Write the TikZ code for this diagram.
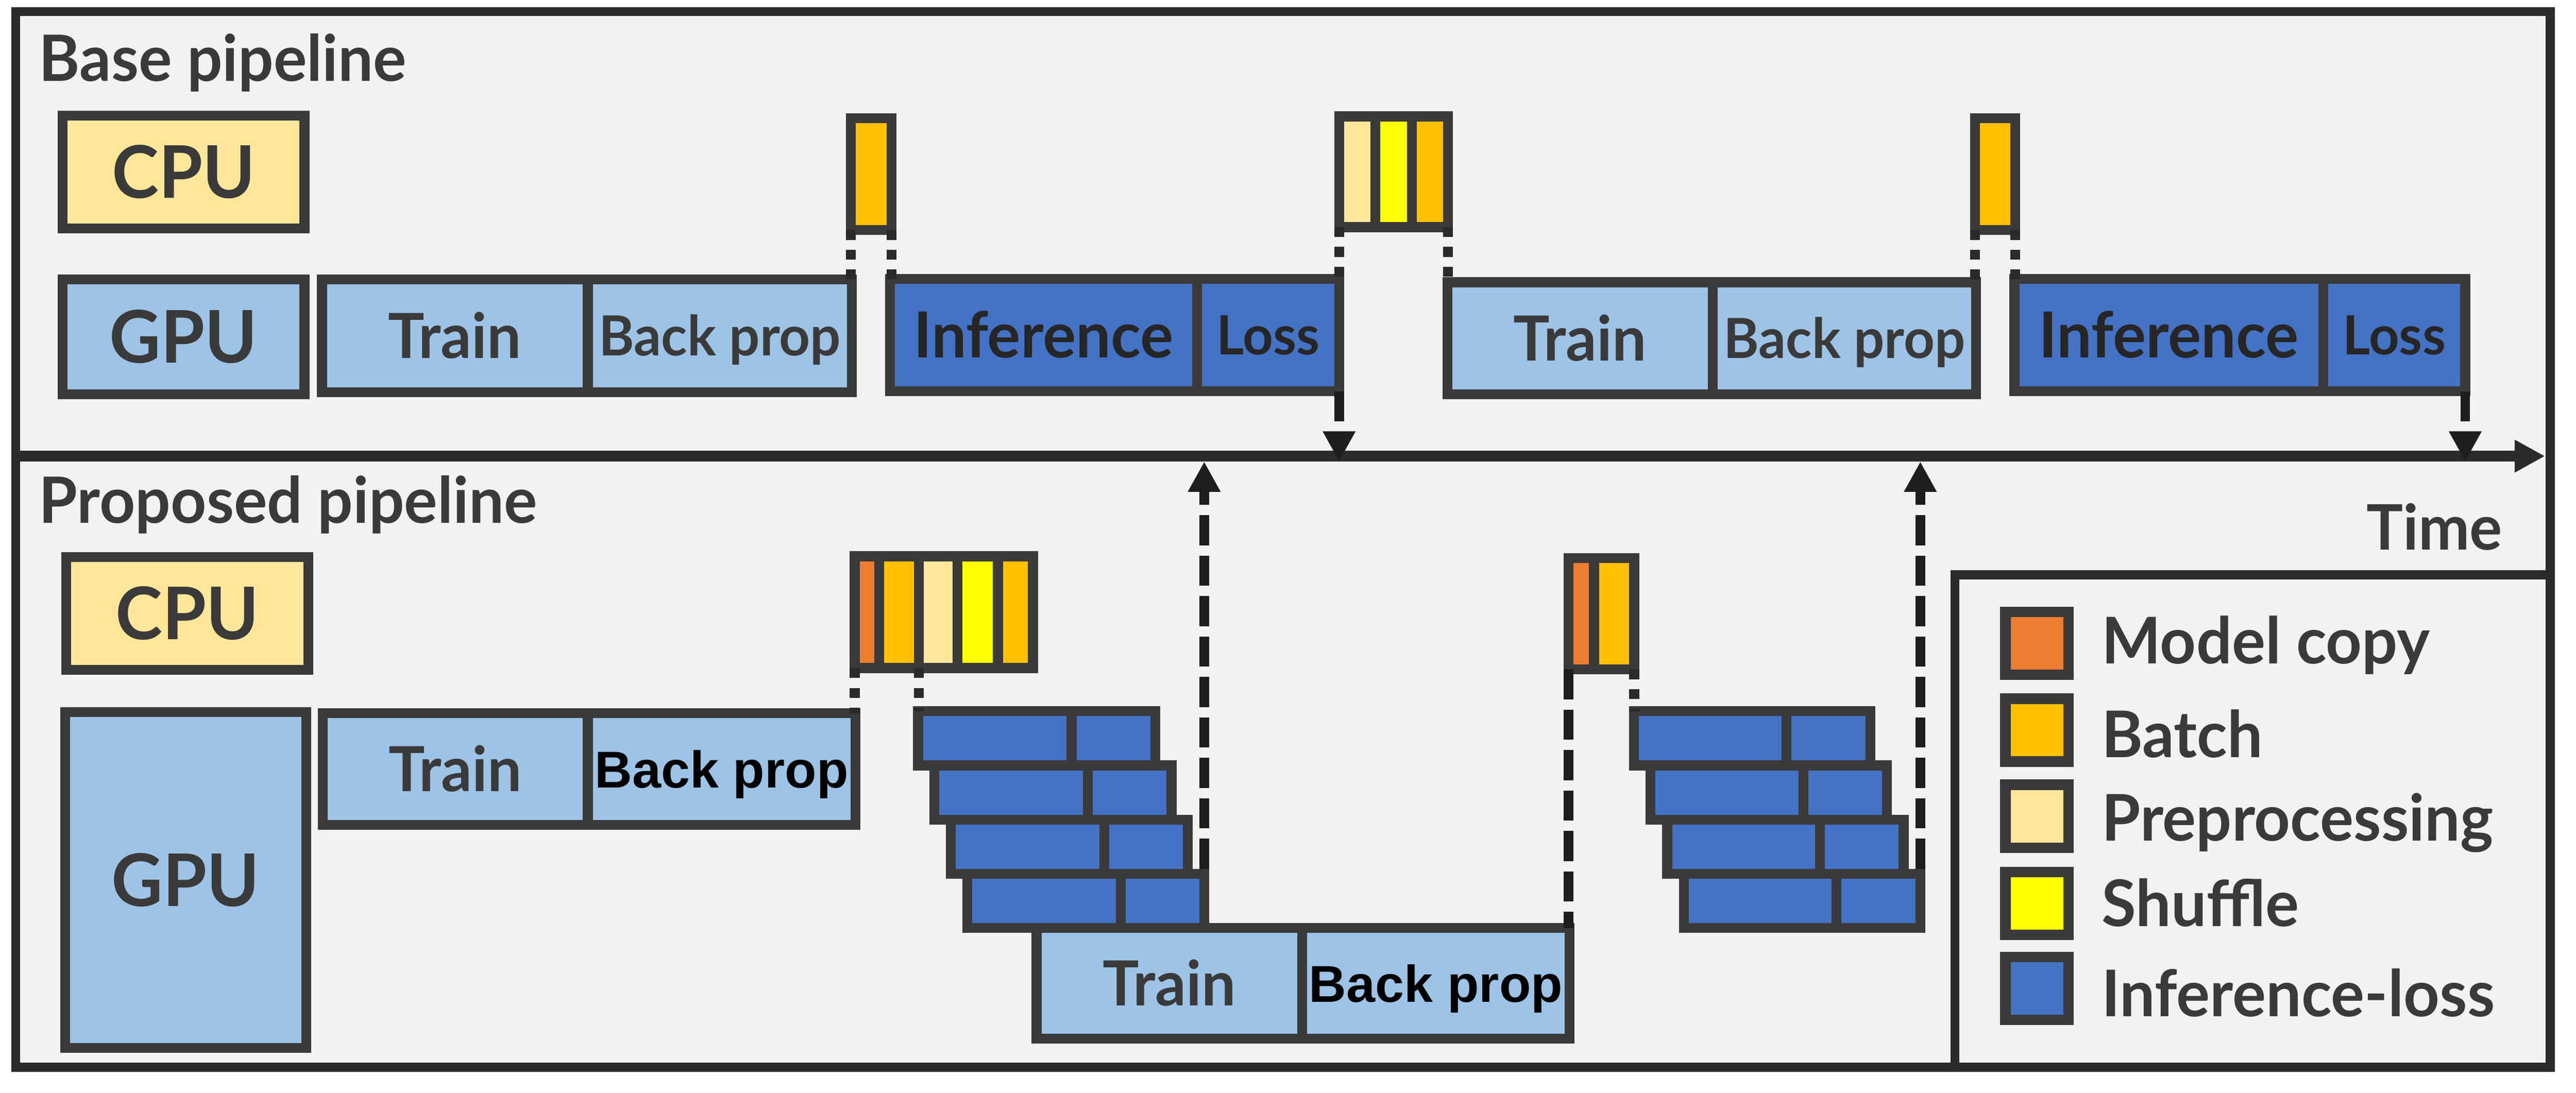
\documentclass[tikz,border=0pt]{standalone}
\usepackage{fontspec}
\setmainfont{Lato}[FakeStretch=0.975]
\newfontfamily\arialfont{Liberation Sans}
\usetikzlibrary{arrows.meta}
\definecolor{bgc}{HTML}{F2F2F2}
\definecolor{bdc}{HTML}{3A3A3A}
\definecolor{frc}{HTML}{2B2B2B}
\definecolor{txc}{HTML}{3A3A3A}
\definecolor{dkc}{HTML}{262626}
\definecolor{dsc}{HTML}{2A2A2A}
\definecolor{arc}{HTML}{1E1E1E}
\definecolor{lyel}{HTML}{FFE699}
\definecolor{lblu}{HTML}{9DC3E6}
\definecolor{dblu}{HTML}{4472C4}
\definecolor{orng}{HTML}{ED7D31}
\definecolor{gold}{HTML}{FFC000}
\definecolor{yelo}{HTML}{FFFF00}
\newcommand\myfs[1]{\fontsize{#1}{#1}\selectfont}
\begin{document}
\begin{tikzpicture}[x=1pt,y=-1pt,
  cell/.style 2 args={draw=bdc, line width=6pt, inner sep=0pt, outer sep=0pt,
     minimum width=#1pt, minimum height=#2pt, text=txc},
  capht/.style={text height=#1pt, text depth=0pt},
  fcpu/.style={font=\myfs{44}\bfseries, capht=31.5},
  ftrain/.style={font=\myfs{37.7}\bfseries, capht=27},
  fbp/.style={font=\myfs{33.5}\bfseries, capht=24},
  finf/.style={font=\myfs{38.5}\bfseries, capht=27.6, text=dkc},
  floss/.style={font=\myfs{32.8}\bfseries, capht=23.5, text=dkc},
  fbpa/.style={font=\arialfont\bfseries\myfs{31.4}, capht=22.5, text=black},
  ftitle/.style={font=\myfs{38.7}\bfseries, text=txc, inner sep=0pt, anchor=base west},
  flegend/.style={font=\myfs{39}\bfseries, text=txc, inner sep=0pt, anchor=base west},
  sdash/.style={draw=dsc, line width=6pt, dash pattern=on 6pt off 6pt},
  ldash/.style={draw=arc, line width=5.8pt, dash pattern=on 18.2pt off 6.3pt},
  tip/.style={-{Triangle[length=18.3pt,width=18.5pt]}},
]
\fill[white] (0,0) rectangle (1560.1,662.05);
\useasboundingbox (0,0) rectangle (1560.1,662.05);
\fill[bgc] (9.5,7) rectangle (1544.5,646.5);

% ---------- Base pipeline ----------
\node[ftitle] (ttlA) at (23.5,49.1) {Base pipeline};
\node[cell={146.4}{68.4}, fill=lyel, fcpu] (cpuA) at (111.2,104.2) {CPU};
\node[cell={146.4}{69.7}, fill=lblu, fcpu] (gpuA) at (111.2,204.05) {GPU};
\node[cell={161}{68.3}, fill=lblu, ftrain] (trA) at (275.5,203.35) {Train};
\node[cell={160}{68.3}, fill=lblu, fbp] (bpA) at (436,203.35) {Back prop};
\node[cell={24.6}{67.6}, fill=gold] (bA) at (527.7,105.5) {};
\node[cell={186}{68}, fill=dblu, finf] (infA) at (632,203) {Inference};
\node[cell={86}{68}, fill=dblu, floss] (lsA) at (768,203) {Loss};
\node[cell={22}{67.1}, fill=lyel] (pA) at (822,104.05) {};
\node[cell={22}{67.1}, fill=yelo] (shA) at (844,104.05) {};
\node[cell={22}{67.1}, fill=gold] (bB) at (866,104.05) {};
\node[cell={160.8}{67.9}, fill=lblu, ftrain] (trB) at (956.9,204.95) {Train};
\node[cell={159.5}{67.9}, fill=lblu, fbp] (bpB) at (1117.05,204.95) {Back prop};
\node[cell={24.5}{67.6}, fill=gold] (bC) at (1208.25,105.5) {};
\node[cell={187}{68}, fill=dblu, finf] (infB) at (1313.5,203) {Inference};
\node[cell={86}{68}, fill=dblu, floss] (lsB) at (1450,203) {Loss};

% ---------- Proposed pipeline ----------
\node[ftitle] (ttlB) at (23.5,317) {Proposed pipeline};
\node[cell={146.6}{68.2}, fill=lyel, fcpu] (cpuB) at (113.5,371.6) {CPU};
\node[cell={145.9}{203.5}, fill=lblu, fcpu] (gpuB) at (112.45,533.15) {GPU};
\node[cell={160.5}{67.7}, fill=lblu, ftrain] (trC) at (275.75,465.85) {Train};
\node[cell={162}{67.7}, fill=lblu, fbpa] (bpC) at (437,465.85) {Back prop};
\node[cell={14.8}{67.7}, fill=orng] (mA) at (525,370.85) {};
\node[cell={24.1}{67.7}, fill=gold] (bD) at (544.45,370.85) {};
\node[cell={23.5}{67.7}, fill=lyel] (pB) at (568.25,370.85) {};
\node[cell={24.4}{67.7}, fill=yelo] (shB) at (592.2,370.85) {};
\node[cell={21.2}{67.7}, fill=gold] (bF) at (615,370.85) {};
\foreach \i/\L/\T in {1/556.0/430.8, 2/565.9/463.63, 3/575.8/496.46, 4/585.7/529.29} {
  \node[cell={93}{32.83}, fill=dblu] (s1l\i) at (\L+46.5,\T+16.415) {};
  \node[cell={50.6}{32.83}, fill=dblu] (s1r\i) at (\L+118.3,\T+16.415) {};
}
\node[cell={160.9}{67.1}, fill=lblu, ftrain] (trD) at (708.25,595.65) {Train};
\node[cell={161.8}{67.1}, fill=lblu, fbpa] (bpD) at (869.6,595.65) {Back prop};
\node[cell={15.4}{67.4}, fill=orng] (mB) at (957.7,371.7) {};
\node[cell={24.3}{67.4}, fill=gold] (bE) at (977.55,371.7) {};
\foreach \i/\L/\T in {1/989.5/430.8, 2/999.6/463.63, 3/1009.7/496.46, 4/1019.8/529.29} {
  \node[cell={92.5}{32.83}, fill=dblu] (s2l\i) at (\L+46.25,\T+16.415) {};
  \node[cell={50.7}{32.83}, fill=dblu] (s2r\i) at (\L+117.85,\T+16.415) {};
}
\node[font=\myfs{38}\bfseries, text=txc, inner sep=0pt, anchor=base west] (time) at (1433,333) {Time};

% ---------- legend ----------
\draw[frc, line width=5.5pt] (1184,646.5) -- (1184,348.3) -- (1544.5,348.3);
\node[cell={38.1}{38.1}, line width=6.4pt, fill=orng] (lgA) at (1233.65,389.65) {};
\node[cell={38.1}{38.1}, line width=6.4pt, fill=gold] (lgB) at (1233.65,442.25) {};
\node[cell={38.1}{38.1}, line width=6.4pt, fill=lyel] (lgC) at (1233.65,494.45) {};
\node[cell={38.1}{38.1}, line width=6.4pt, fill=yelo] (lgD) at (1233.65,547.25) {};
\node[cell={38.1}{38.1}, line width=6.4pt, fill=dblu] (lgE) at (1233.65,598.75) {};
\node[flegend] (ltA) at (1272.7,401.9) {Model copy};
\node[flegend] (ltB) at (1272.7,458.8) {Batch};
\node[flegend] (ltC) at (1272.7,509.4) {Preprocessing};
\node[flegend] (ltD) at (1272.7,561.3) {Shuffle};
\node[flegend] (ltE) at (1272.7,615.7) {Inference-loss};

% ---------- timeline ----------
\coordinate (tl0) at (9.5,276.3);
\coordinate (tl1) at (1541.3,276.3);
\coordinate (tlb) at (9.5,279.6);
\draw[draw=frc, line width=6.3pt, -{Triangle[length=18.3pt,width=18.5pt]}] (tl0) -- (tl1);

% ---------- short dashed links ----------
\draw[sdash] (bA.south west) -- (bA.south west |- bpA.north);
\draw[sdash] (bA.south east) -- (bA.south east |- infA.north);
\draw[sdash] (pA.south west) -- (pA.south west |- lsA.north);
\draw[sdash] (bB.south east) -- (bB.south east |- trB.north);
\draw[sdash] (bC.south west) -- (bC.south west |- bpB.north);
\draw[sdash] (bC.south east) -- (bC.south east |- infB.north);
\draw[sdash] (mA.south west) -- (mA.south west |- bpC.north);
\draw[sdash] (bD.south east) -- (bD.south east |- s1l1.north);
\draw[sdash] (bE.south east) -- (bE.south east |- s2l1.north);
\draw[ldash] (mB.south west) -- (mB.south west |- bpD.north);

% ---------- arrows to the timeline ----------
\draw[ldash, tip] (lsA.south east) -- (lsA.south east |- tlb);
\draw[ldash, tip] (lsB.south east) -- (lsB.south east |- tlb);
\draw[ldash, tip, shorten <=3pt] (s1r4.north east) -- (s1r4.north east |- tlb);
\draw[ldash, tip, shorten <=3pt] (s2r4.north east) -- (s2r4.north east |- tlb);

% ---------- frame ----------
\draw[frc, line width=5.5pt] (9.5,7) rectangle (1544.5,646.5);
\end{tikzpicture}
\end{document}
